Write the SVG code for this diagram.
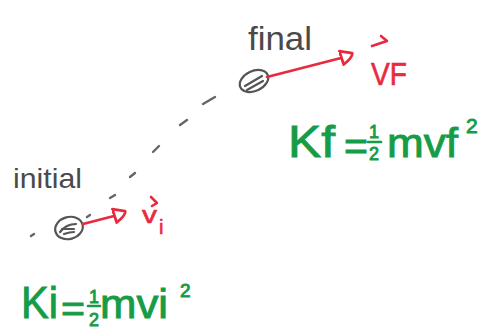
<svg xmlns="http://www.w3.org/2000/svg" width="493" height="331" viewBox="0 0 493 331">
<style>
.bg{fill:#ffffff}
.pencil{fill:none;stroke:#555;stroke-width:2.2;stroke-linecap:round;stroke-linejoin:round}
.dash{fill:none;stroke:#666;stroke-width:2.4;stroke-linecap:round}
.vel{fill:none;stroke:#e8293e;stroke-width:2.6;stroke-linecap:round;stroke-linejoin:round}
.lbl{font-family:"Liberation Sans",Arial,sans-serif;fill:#4a4a4a}
.red{font-family:"Liberation Sans",Arial,sans-serif;fill:#e8293e;stroke:#e8293e;stroke-width:0.6}
.eq{font-family:"Liberation Sans",Arial,sans-serif;fill:#169c46;stroke:#169c46;stroke-width:0.9}
.bar{stroke:#169c46;stroke-width:2.6;stroke-linecap:round}
</style>
<defs>
<marker id="head" markerUnits="userSpaceOnUse" markerWidth="20" markerHeight="20" refX="1" refY="8" orient="auto" viewBox="0 0 20 16">
<path d="M1,1 L13,6 Q13,10 2,15 Z" fill="none" stroke="#e8293e" stroke-width="2.8" stroke-linejoin="round"/>
</marker>
</defs>
<rect class="bg" x="0" y="0" width="493" height="331"/>
<g id="connectors">
<path class="dash" d="M31,236 L34,234 M87,217 L90,215 M110,198 L115,195 M130,177 L135,173 M153,152 L159,146 M180,125 L187,120 M203,104 L215,97"/>
</g>
<g id="initial">
<ellipse class="pencil" cx="69" cy="228" rx="14" ry="11" transform="rotate(-15 69 228)"/>
<path class="pencil" d="M60,232 Q66,224 76,224 M62,229 Q70,229 74,229 M64,234 Q70,232 74,232"/>
<path class="vel" d="M83,224 L114,216" marker-end="url(#head)"/>
<text class="lbl" x="13" y="188" font-size="28" textLength="69" lengthAdjust="spacingAndGlyphs">initial</text>
<text class="red" x="142" y="223" font-size="24" textLength="15" lengthAdjust="spacingAndGlyphs">v</text>
<path class="vel" d="M151,197 L157,203 L152,206" stroke-width="2"/>
<text class="red" x="159" y="234" font-size="20">i</text>
</g>
<g id="final">
<ellipse class="pencil" cx="254" cy="81" rx="15" ry="10" transform="rotate(-25 254 81)"/>
<path class="pencil" d="M245,86 L262,76 M247,90 L263,81"/>
<path class="vel" d="M267,77 L341,58" marker-end="url(#head)"/>
<text class="lbl" x="248" y="50" font-size="34" textLength="64" lengthAdjust="spacingAndGlyphs">final</text>
<text class="red" x="371" y="85" font-size="31" textLength="36" lengthAdjust="spacingAndGlyphs">VF</text>
<path class="vel" d="M372,46 L387,41 M381,36 L387,41" stroke-width="2"/>
</g>
<g id="eq-final">
<text class="eq" x="288" y="157" font-size="44" textLength="47" lengthAdjust="spacingAndGlyphs">Kf</text>
<text class="eq" x="344" y="160" font-size="40" textLength="24" lengthAdjust="spacingAndGlyphs">=</text>
<text class="eq" x="369" y="138" font-size="18">1</text>
<line class="bar" x1="368" y1="142" x2="381" y2="142"/>
<text class="eq" x="369" y="160" font-size="18">2</text>
<text class="eq" x="387" y="157" font-size="40" textLength="71" lengthAdjust="spacingAndGlyphs">mvf</text>
<text class="eq" x="466" y="133" font-size="21">2</text>
</g>
<g id="eq-initial">
<text class="eq" x="21" y="318" font-size="44" textLength="37" lengthAdjust="spacingAndGlyphs">Ki</text>
<text class="eq" x="61" y="321" font-size="36" textLength="24" lengthAdjust="spacingAndGlyphs">=</text>
<text class="eq" x="89" y="303" font-size="18">1</text>
<line class="bar" x1="88" y1="306" x2="100" y2="306"/>
<text class="eq" x="89" y="326" font-size="18">2</text>
<text class="eq" x="100" y="318" font-size="40" textLength="68" lengthAdjust="spacingAndGlyphs">mvi</text>
<text class="eq" x="180" y="297" font-size="19">2</text>
</g>
</svg>
